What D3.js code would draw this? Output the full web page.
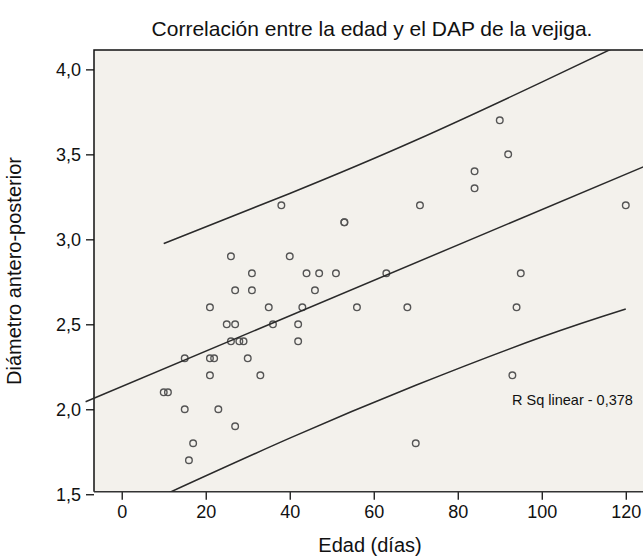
<!DOCTYPE html>
<html>
<head>
<meta charset="utf-8">
<script src="https://cdn.jsdelivr.net/npm/d3@7"></script>
<style>
  body { margin: 0; background: #fff; }
  text { font-family: "Liberation Sans", Arial, sans-serif; fill: #111; }
</style>
</head>
<body>
<div id="chart"></div>
<script>
const WIDTH = 643;
const HEIGHT = 557;

// edad (días) / DAP
const edad = [10,11,15,15,16,17,21,21,21,22,23,25,26,26,27,27,27,28,29,30,31,31,33,35,36,38,40,42,42,43,44,46,47,51,53,53,56,63,68,70,71,84,84,90,92,93,94,95,120];
const dap  = [2.1,2.1,2.3,2.0,1.7,1.8,2.6,2.3,2.2,2.3,2.0,2.5,2.9,2.4,2.7,2.5,1.9,2.4,2.4,2.3,2.8,2.7,2.2,2.6,2.5,3.2,2.9,2.5,2.4,2.6,2.8,2.7,2.8,2.8,3.1,3.1,2.6,2.8,2.6,1.8,3.2,3.4,3.3,3.7,3.5,2.2,2.6,2.8,3.2];

// fit line and 95% bands as drawn
const fitLine   = [[-8.6, 2.044], [125, 3.435]];
const upperBand = [[10, 2.975], [40, 3.27], [70, 3.583], [100, 3.925], [120, 4.16]];
const lowerBand = [[10, 1.495], [40, 1.83], [70, 2.141], [100, 2.425], [120, 2.59]];

const xTicks = [0, 20, 40, 60, 80, 100, 120];
const yTicks = [1.5, 2.0, 2.5, 3.0, 3.5, 4.0];

const title = "Correlación entre la edad y el DAP de la vejiga.";
const xLabel = "Edad (días)";
const yLabel = "Diámetro antero-posterior";
const rsqLabel = "R Sq linear - 0,378";

const mLeft = 94, mTop = 50, mRight = 643, mBottom = 491.7;

const es = d3.formatLocale({decimal: ",", thousands: ".", grouping: [3], currency: ["", "€"]});

const svg = d3.select("#chart").append("svg")
    .attr("width", WIDTH)
    .attr("height", HEIGHT);

const x = d3.scaleLinear().domain([-6.6, 124.1]).range([mLeft, mRight]);
const y = d3.scaleLinear().domain([1.515, 4.114]).range([mBottom, mTop]);

let defs = svg.append("defs");
defs.append("clipPath").attr("id", "clip")
  .append("rect")
    .attr("x", mLeft).attr("y", mTop)
    .attr("width", mRight - mLeft).attr("height", mBottom - mTop);
// the fit line pokes a little past the y axis in the original
defs.append("clipPath").attr("id", "clipfit")
  .append("rect")
    .attr("x", mLeft - 9).attr("y", mTop)
    .attr("width", mRight - mLeft + 9).attr("height", mBottom - mTop);

svg.append("rect")
    .attr("x", mLeft).attr("y", mTop)
    .attr("width", mRight - mLeft).attr("height", mBottom - mTop)
    .attr("fill", "#f3f1ec");

// axes
let xAxis = d3.axisBottom(x).tickValues(xTicks).tickSize(8).tickPadding(6).tickFormat(d3.format("d"));
let yAxis = d3.axisLeft(y).tickValues(yTicks).tickSize(8).tickPadding(5).tickFormat(es.format(".1f"));

let gx = svg.append("g").attr("transform", "translate(0," + mBottom + ")").call(xAxis);
let gy = svg.append("g").attr("transform", "translate(" + mLeft + ",0)").call(yAxis);
[gx, gy].forEach(g => {
    g.select(".domain").remove();
    g.selectAll(".tick line").attr("stroke", "#111").attr("stroke-width", 1.3);
    g.selectAll(".tick text").style("font-size", "18px").attr("fill", "#111");
});

// frame
svg.append("path")
    .attr("d", `M${mLeft},${mBottom}V${mTop}H${mRight}`)
    .attr("fill", "none").attr("stroke", "#111").attr("stroke-width", 1.5);
svg.append("line")
    .attr("x1", mLeft).attr("x2", mRight).attr("y1", mBottom).attr("y2", mBottom)
    .attr("stroke", "#333").attr("stroke-width", 1.5);

const plot = svg.append("g").attr("clip-path", "url(#clip)");

let straight = d3.line().x(d => x(d[0])).y(d => y(d[1]));
let curved = d3.line().x(d => x(d[0])).y(d => y(d[1])).curve(d3.curveNatural);

svg.append("path").attr("d", straight(fitLine))
    .attr("clip-path", "url(#clipfit)")
    .attr("fill", "none").attr("stroke", "#2a2a2a").attr("stroke-width", 1.5);
[upperBand, lowerBand].forEach(b => {
    plot.append("path").attr("d", curved(b))
        .attr("fill", "none").attr("stroke", "#2a2a2a").attr("stroke-width", 1.5);
});

plot.selectAll(".pt")
    .data(edad.map((e, i) => [e, dap[i]]))
    .enter()
    .append("circle")
    .attr("class", "pt")
    .attr("cx", d => x(d[0]))
    .attr("cy", d => y(d[1]))
    .attr("r", 3.3)
    .attr("fill", "none")
    .attr("stroke", "#555")
    .attr("stroke-width", 1.4);

svg.append("text")
    .attr("x", 512).attr("y", 405)
    .style("font-size", "14.5px")
    .text(rsqLabel);

svg.append("text")
    .attr("x", 372).attr("y", 36)
    .attr("text-anchor", "middle")
    .style("font-size", "21px")
    .text(title);

svg.append("text")
    .attr("x", 370).attr("y", 552)
    .attr("text-anchor", "middle")
    .style("font-size", "20px")
    .text(xLabel);

svg.append("text")
    .attr("transform", "translate(21,271) rotate(-90)")
    .attr("text-anchor", "middle")
    .style("font-size", "20px")
    .text(yLabel);
</script>
</body>
</html>
